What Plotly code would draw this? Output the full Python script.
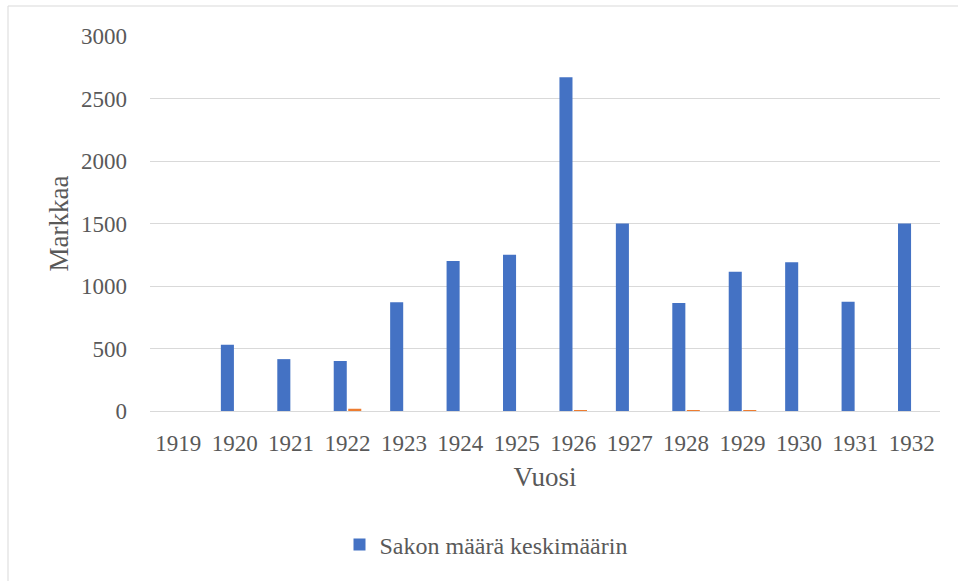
import plotly.graph_objects as go

years = [str(y) for y in range(1919, 1933)]
sakko_keskim = [0, 530, 415, 400, 870, 1200, 1250, 2670, 1500, 865, 1115, 1190, 875, 1500]
toinen_sarja = [0, 0, 0, 18, 0, 0, 0, 8, 0, 5, 8, 0, 0, 0]

TEXT = "#595959"
GRID = "#D9D9D9"
FONT = "Liberation Serif, Times New Roman, serif"

W, H = 958, 581
L, R, T, B = 150, 18, 36, 170
pw, ph = W - L - R, H - T - B


def px_x(x):
    return (x - L) / pw


def px_y(y):
    return (H - B - y) / ph


fig = go.Figure()
fig.add_trace(go.Bar(x=years, y=sakko_keskim, name="Sakon määrä keskimäärin",
                     marker=dict(color="#4472C4", line=dict(width=0))))
fig.add_trace(go.Bar(x=years, y=toinen_sarja, name="", showlegend=False,
                     marker=dict(color="#ED7D31", line=dict(width=0))))

# chart area border
fig.add_shape(type="rect", xref="paper", yref="paper",
              x0=px_x(8), y0=px_y(590), x1=px_x(970), y1=px_y(6),
              line=dict(color=GRID, width=1), fillcolor="rgba(0,0,0,0)", layer="below")

fig.update_xaxes(
    type="category",
    title=dict(text="Vuosi", font=dict(family=FONT, size=27, color=TEXT), standoff=12),
    tickfont=dict(family=FONT, size=23, color=TEXT),
    showgrid=False,
    showline=True,
    linecolor=GRID,
    linewidth=1,
    ticks="",
    ticklabelstandoff=11,
)
fig.update_yaxes(
    range=[0, 3000],
    dtick=500,
    title=dict(text="Markkaa", font=dict(family=FONT, size=27, color=TEXT), standoff=4),
    tickfont=dict(family=FONT, size=23, color=TEXT),
    showgrid=True,
    gridcolor=GRID,
    gridwidth=1,
    zeroline=False,
    showline=False,
    ticks="",
    ticklabelstandoff=22,
)
fig.update_layout(
    width=W,
    height=H,
    barmode="group",
    bargap=0.486,
    bargroupgap=0.1,
    font=dict(family=FONT, size=22, color=TEXT),
    plot_bgcolor="white",
    paper_bgcolor="white",
    margin=dict(l=L, r=R, t=T, b=B),
    showlegend=True,
    legend=dict(orientation="h", x=px_x(486), xanchor="center",
                y=px_y(545), yanchor="middle",
                itemwidth=30,
                font=dict(family=FONT, size=24, color=TEXT)),
)

fig.write_html("out.html", config={"displayModeBar": False},
               post_script="document.body.style.margin='0';")
